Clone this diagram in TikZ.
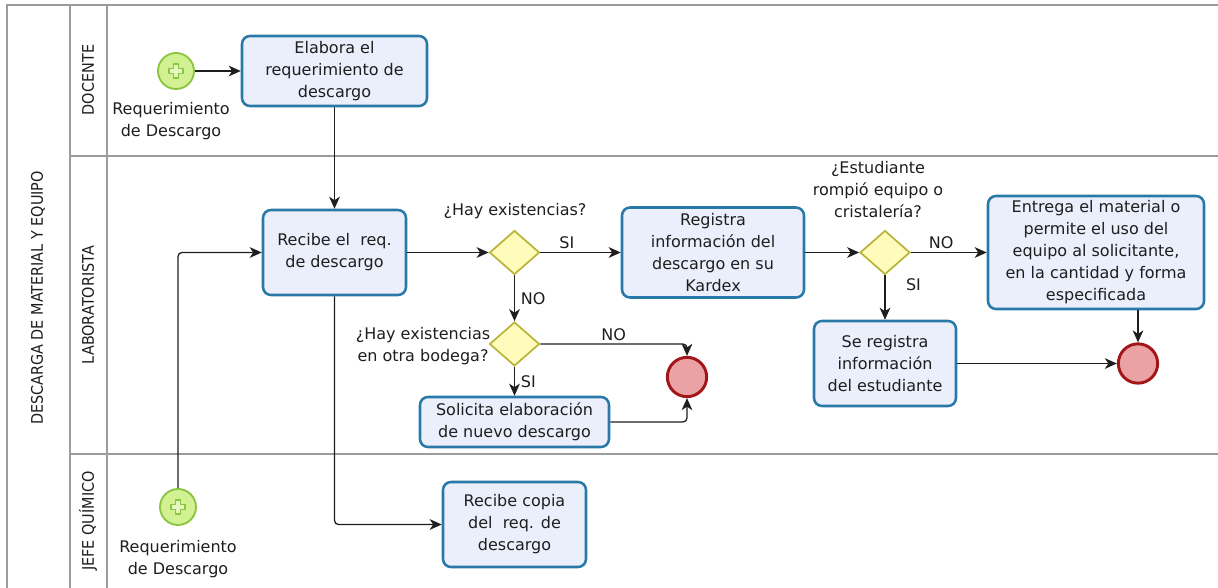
\documentclass[tikz,border=0pt]{standalone}
\usepackage{fontspec}
\setmainfont{DejaVu Sans}
\newfontfamily\lanefont[FakeStretch=0.9]{DejaVu Sans}
\usetikzlibrary{shapes.geometric,arrows.meta,calc}

\definecolor{taskfill}{HTML}{EBEFFC}
\definecolor{taskline}{HTML}{2878A8}
\definecolor{startfill}{HTML}{D2F193}
\definecolor{startline}{HTML}{8BC43F}
\definecolor{gatefill}{HTML}{FFFBBA}
\definecolor{gateline}{HTML}{B9B43A}
\definecolor{endfill}{HTML}{EAA2A5}
\definecolor{endline}{HTML}{A2161A}
\definecolor{laneline}{HTML}{9C9C9C}
\definecolor{ink}{HTML}{1E1E1E}

\tikzset{
  txt/.style={font=\fontsize{12}{16.5}\selectfont, text=ink, align=center},
  task/.style={txt, draw=taskline, fill=taskfill, line width=1.9pt,
    rounded corners=6pt, inner sep=0pt},
  gate/.style={diamond, draw=gateline, fill=gatefill, line width=1.3pt,
    minimum width=37.5pt, minimum height=33pt, inner sep=0pt},
  startev/.style={circle, draw=startline, fill=startfill, line width=1.4pt,
    minimum size=27pt, inner sep=0pt},
  endev/.style={circle, draw=endline, fill=endfill, line width=2.2pt,
    minimum size=29.5pt, inner sep=0pt},
  flow/.style={draw=ink, line width=0.95pt,
    -{Stealth[length=9pt,width=8pt,inset=2.6pt]}},
  lane/.style={draw=laneline, line width=1.5pt},
  lanetxt/.style={font=\lanefont\fontsize{12}{14}\selectfont, text=ink, rotate=90},
  plusmark/.style={draw=startline, fill=startfill!60!white, line width=0.8pt, line join=round}
}

\newcommand\bpmnplus[1]{%
  \draw[plusmark, shift={(#1)}]
    (-2.5,7) -- (2.5,7) -- (2.5,2.5) -- (7,2.5) -- (7,-2.5) -- (2.5,-2.5)
    -- (2.5,-7) -- (-2.5,-7) -- (-2.5,-2.5) -- (-7,-2.5) -- (-7,2.5)
    -- (-2.5,2.5) -- cycle;}

\begin{document}
\begin{tikzpicture}[x=0.75pt, y=-0.75pt]
\useasboundingbox (0,0) rectangle (1218,588);

% pool and lanes
\draw[lane] (7,588) -- (7,5) -- (1218,5);
\draw[lane] (70,5) -- (70,588);
\draw[lane] (107,5) -- (107,588);
\draw[lane] (70,156) -- (1218,156);
\draw[lane] (70,454) -- (1218,454);

\node[lanetxt] (pool) at (38,298) {DESCARGA DE MATERIAL Y EQUIPO};
\node[lanetxt] (l1) at (88,80) {DOCENTE};
\node[lanetxt] (l2) at (88,305) {LABORATORISTA};
\node[lanetxt] (l3) at (88,521) {JEFE QUÍMICO};

% start events
\node[startev] (s1) at (176,71) {};
\bpmnplus{s1.center}
\node[txt] (s1t) at (171,121) {Requerimiento\\de Descargo};
\node[startev] (s2) at (178,507) {};
\bpmnplus{s2.center}
\node[txt] (s2t) at (178,559) {Requerimiento\\de Descargo};

% tasks
\node[task, minimum width=138.75pt, minimum height=52.5pt] (elab) at (334.5,71)
  {Elabora el\\requerimiento de\\descargo};
\node[task, minimum width=107.25pt, minimum height=63.75pt] (recibe) at (334.5,252.5)
  {Recibe el\ \ req.\\de descargo};
\node[task, minimum width=107.25pt, minimum height=63.75pt] (copia) at (514.5,524.5)
  {Recibe copia\\del\ \ req. de\\descargo};
\node[task, minimum width=136.5pt, minimum height=67.5pt] (registra) at (713,252.5)
  {Registra\\información del\\descargo en su\\Kardex};
\node[task, minimum width=141.75pt, minimum height=37.5pt] (solicita) at (514.5,422)
  {Solicita elaboración\\de nuevo descargo};
\node[task, minimum width=162pt, minimum height=84.75pt] (entrega) at (1096,252.5)
  {Entrega el material o\\permite el uso del\\equipo al solicitante,\\en la cantidad y forma\\especificada};
\node[task, minimum width=106.5pt, minimum height=63.75pt] (sereg) at (885,363.5)
  {Se registra\\información\\del estudiante};

% gateways
\node[gate] (g1) at (514.5,252.5) {};
\node[txt] (g1t) at (515,211) {¿Hay existencias?};
\node[gate] (g2) at (514.5,344) {};
\node[txt] (g2t) at (423,346) {¿Hay existencias\\en otra bodega?};
\node[gate] (g3) at (885,252.5) {};
\node[txt] (g3t) at (878,190) {¿Estudiante\\rompió equipo o\\cristalería?};

% end events
\node[endev] (e1) at (687,377) {};
\node[endev] (e2) at (1138,363.5) {};

% sequence flows
\draw[flow] (s1) -- (elab.west);
\draw[flow] (elab.south) -- (recibe.north);
\draw[flow, rounded corners=3pt] (s2.north) |- (recibe.west);
\draw[flow, rounded corners=3pt] (recibe.south) |- (copia.west);
\draw[flow] (recibe.east) -- (g1.west);
\draw[flow] (g1.east) -- node[txt, pos=0.33, above=-1pt] (si1) {SI} (registra.west);
\draw[flow] (g1.south) -- node[txt, right=1pt] (no1) {NO} (g2.north);
\draw[flow, rounded corners=3pt] (g2.east) -| node[txt, pos=0.25, above=-1pt] (no2) {NO} (e1.north);
\draw[flow] (g2.south) -- node[txt, right=1pt] (si2) {SI} (solicita.north);
\draw[flow, rounded corners=3pt] (solicita.east) -| (e1.south);
\draw[flow] (registra.east) -- (g3.west);
\draw[flow] (g3.east) -- node[txt, pos=0.4, above=-1pt] (no3) {NO} (entrega.west);
\draw[flow] (g3.south) -- node[txt, pos=0.2, right=12pt] (si3) {SI} (sereg.north);
\draw[flow] (sereg.east) -- (e2.west);
\draw[flow] (entrega.south -| e2) -- (e2.north);
\end{tikzpicture}
\end{document}
